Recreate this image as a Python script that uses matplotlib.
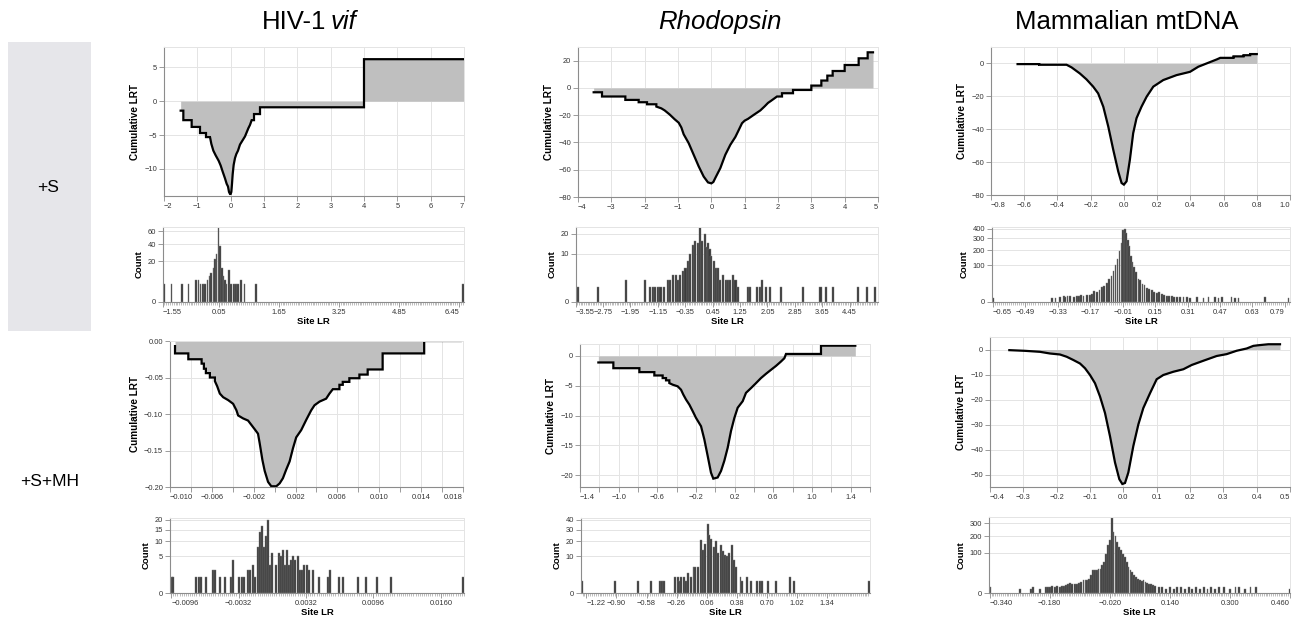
import matplotlib
matplotlib.use("Agg")
import matplotlib.pyplot as plt
import numpy as np
from matplotlib.ticker import MultipleLocator, NullLocator
from matplotlib.patches import Rectangle

plt.rcParams["font.family"] = ["Liberation Sans", "DejaVu Sans"]

W, H = 1294, 621
FILL = "#bfbfbf"
GRID = "#e4e4e4"
DOMAIN = "#8c8c8c"

ROWS = ["+S", "+S+MH"]

# ---- cumulative LRT curves (vertices) ----
hiv_s_x = [-1.50, -1.42, -1.42, -1.17, -1.17, -0.92, -0.92, -0.74, -0.74, -0.62, -0.58, -0.52,
           -0.45, -0.36, -0.30, -0.24, -0.17, -0.12, -0.08, -0.05, -0.02, 0.00, 0.02, 0.04, 0.06,
           0.09, 0.13, 0.17, 0.22, 0.28, 0.33, 0.38, 0.43, 0.48, 0.53, 0.58, 0.63, 0.70, 0.70,
           0.88, 0.88, 4.00, 4.00, 7.00]
hiv_s_y = [-1.4, -1.4, -2.8, -2.8, -3.8, -3.8, -4.7, -4.7, -5.3, -5.3, -6.3, -7.3,
           -8.0, -8.8, -9.5, -10.4, -11.4, -12.2, -12.6, -13.4, -13.7, -13.7, -13.4, -12.2, -10.8,
           -9.4, -8.4, -7.8, -7.3, -6.4, -6.0, -5.6, -5.2, -4.6, -4.0, -3.5, -2.8, -2.8, -1.9,
           -1.9, -0.9, -0.9, 6.2, 6.2]

rho_s_x = [-3.53, -3.28, -3.28, -2.58, -2.58, -2.18, -2.18, -1.93, -1.93, -1.65, -1.65, -1.50,
           -1.40, -1.25, -1.10, -0.98, -0.90, -0.83, -0.68, -0.53, -0.38, -0.23, -0.10, 0.00,
           0.06, 0.12, 0.27, 0.42, 0.57, 0.72, 0.80, 0.92, 1.00, 1.10, 1.27, 1.47, 1.60, 1.70,
           1.80, 1.97, 2.12, 2.12, 2.45, 2.45, 3.00, 3.00, 3.30, 3.30, 3.48, 3.48, 3.64, 3.64,
           4.00, 4.00, 4.42, 4.42, 4.69, 4.69, 4.85]
rho_s_y = [-3.2, -3.2, -6.3, -6.3, -8.8, -8.8, -10.5, -10.5, -12.0, -12.0, -13.7, -15.0,
           -16.5, -19.5, -23.0, -25.5, -29.0, -34.0, -40.5, -49.0, -57.5, -65.0, -69.3, -70.0,
           -69.0, -66.0, -58.8, -49.0, -41.7, -36.0, -32.0, -25.9, -24.0, -22.7, -19.8, -16.5, -13.5, -11.0,
           -9.3, -6.3, -6.3, -3.9, -3.9, -1.5, -1.5, 1.7, 1.7, 5.4, 5.4, 9.0, 9.0, 12.4,
           12.4, 16.8, 16.8, 21.7, 21.7, 26.1, 26.1]

mam_s_x = [-0.64, -0.51, -0.51, -0.345, -0.315, -0.265, -0.225, -0.185, -0.155, -0.124, -0.094,
           -0.064, -0.034, -0.014, 0.000, 0.016, 0.036, 0.056, 0.076, 0.106, 0.137, 0.177, 0.237,
           0.317, 0.398, 0.448, 0.498, 0.558, 0.58, 0.66, 0.66, 0.72, 0.72, 0.76, 0.76, 0.80]
mam_s_y = [-0.4, -0.4, -0.8, -0.8, -2.4, -6.1, -9.7, -14.1, -18.2, -26.3, -38.4,
           -52.5, -65.7, -72.7, -73.7, -71.7, -58.6, -42.4, -33.3, -26.3, -20.2, -14.1, -10.1,
           -7.1, -5.1, -2.0, 0.0, 2.4, 3.4, 3.4, 4.3, 4.3, 5.0, 5.0, 5.7, 5.7]

hiv_mh_x = [-0.00952, -0.00952, -0.00825, -0.00825, -0.00698, -0.00698, -0.00676, -0.00676,
            -0.00657, -0.00657, -0.00619, -0.00619, -0.00571, -0.00571, -0.00549, -0.00524,
            -0.00492, -0.00444, -0.00397, -0.00365, -0.00349, -0.00302, -0.00254, -0.00222,
            -0.00190, -0.00159, -0.00143, -0.00117, -0.00095, -0.00063, -0.00032, 0.00016,
            0.00048, 0.00079, 0.00111, 0.00143, 0.00175, 0.00206, 0.00254, 0.00302, 0.00349,
            0.00381, 0.00429, 0.00492, 0.00524, 0.00556, 0.00619, 0.00619, 0.00651, 0.00651,
            0.00714, 0.00714, 0.00810, 0.00810, 0.00889, 0.00889, 0.01032, 0.01032, 0.01429,
            0.01429, 0.01778]
hiv_mh_y = [-0.007, -0.017, -0.017, -0.025, -0.025, -0.031, -0.031, -0.038,
            -0.038, -0.044, -0.044, -0.050, -0.050, -0.055, -0.062, -0.072,
            -0.077, -0.081, -0.086, -0.095, -0.102, -0.106, -0.109, -0.115,
            -0.121, -0.127, -0.140, -0.163, -0.178, -0.193, -0.199, -0.199,
            -0.195, -0.188, -0.176, -0.165, -0.147, -0.132, -0.122, -0.108, -0.095,
            -0.088, -0.083, -0.079, -0.072, -0.066, -0.066, -0.060, -0.060, -0.056,
            -0.056, -0.051, -0.051, -0.046, -0.046, -0.039, -0.039, -0.017, -0.017,
            0.0, 0.0]

rho_mh_x = [-1.21, -1.055, -1.055, -0.786, -0.786, -0.631, -0.631, -0.545, -0.545, -0.51, -0.51,
            -0.476, -0.476, -0.441, -0.39, -0.355, -0.331, -0.303, -0.269, -0.234, -0.20, -0.148,
            -0.114, -0.079, -0.045, -0.021, 0.024, 0.059, 0.093, 0.128, 0.162, 0.197, 0.231,
            0.283, 0.317, 0.369, 0.421, 0.472, 0.524, 0.576, 0.628, 0.679, 0.714, 0.731, 1.093,
            1.093, 1.448]
rho_mh_y = [-1.1, -1.1, -2.06, -2.06, -2.72, -2.72, -3.28, -3.28, -3.72, -3.72, -4.1,
            -4.1, -4.56, -4.83, -5.1, -5.67, -6.5, -7.33, -8.17, -9.28, -10.4, -11.8,
            -14.0, -16.8, -19.6, -20.6, -20.4, -19.3, -17.6, -15.4, -12.6, -10.4, -8.7,
            -7.6, -6.2, -5.4, -4.56, -3.72, -3.0, -2.33, -1.67, -0.94, -0.39, 0.33, 0.33,
            1.72, 1.72]

mam_mh_x = [-0.342, -0.295, -0.25, -0.22, -0.19, -0.17, -0.15, -0.13, -0.115, -0.10, -0.085,
            -0.07, -0.055, -0.04, -0.025, -0.012, -0.003, 0.005, 0.015, 0.03, 0.045, 0.06, 0.08,
            0.10, 0.12, 0.15, 0.18, 0.205, 0.24, 0.28, 0.31, 0.34, 0.37, 0.39, 0.405, 0.435, 0.47]
mam_mh_y = [-0.26, -0.53, -0.93, -1.6, -2.0, -2.9, -4.2, -5.6, -7.5, -10.2, -13.5,
            -18.8, -25.4, -34.7, -45.2, -51.9, -53.8, -53.4, -49.2, -38.6, -30.0, -23.4, -17.5,
            -11.9, -10.2, -8.9, -7.9, -6.2, -4.5, -2.6, -1.85, -0.5, 0.4, 1.45, 1.7, 2.1, 2.1]

# ---- site LR histograms (bar centre, count) ----
hiv_s_lr = [-1.41, -1.21, -0.93, -0.75, -0.55, -0.49, -0.43, -0.37, -0.31, -0.25, -0.20, -0.15,
            -0.09, -0.05, -0.005, 0.04, 0.085, 0.13, 0.175, 0.22, 0.26, 0.32, 0.37, 0.46, 0.51,
            0.57, 0.65, 0.74, 1.04, 6.55]
hiv_s_count = [4, 4, 4, 4, 6, 6, 4, 4, 4, 6, 8, 10,
               14, 22, 28, 68, 38, 14, 8, 6, 4, 12, 4, 4, 4,
               4, 6, 4, 4, 4]

rho_s_lr = [-3.49, -2.90, -2.07, -1.51, -1.37, -1.30, -1.22, -1.14, -1.07, -0.98, -0.86, -0.79,
            -0.71, -0.63, -0.57, -0.50, -0.42, -0.34, -0.26, -0.20, -0.13, -0.06, 0.02, 0.09,
            0.15, 0.22, 0.26, 0.31, 0.36, 0.41, 0.48, 0.55, 0.61, 0.67, 0.75, 0.83, 0.89, 0.96,
            1.04, 1.12, 1.19, 1.48, 1.55, 1.74, 1.84, 1.89, 2.01, 2.13, 2.45, 3.08, 3.60, 3.77,
            3.96, 4.69, 4.96, 5.18]
rho_s_count = [1, 1, 2, 2, 1, 1, 1, 1, 1, 1, 2, 2,
               3, 3, 2, 3, 4, 5, 7, 10, 14, 16, 15, 24,
               16, 20, 13, 15, 12, 9, 7, 5, 5, 2, 3, 2, 2, 2,
               3, 2, 1, 1, 1, 1, 1, 2, 1, 1, 1, 1, 1, 1,
               1, 1, 1, 1]

mam_s_lr = [-0.65, -0.359, -0.342, -0.318, -0.30, -0.293, -0.282, -0.269, -0.249, -0.236, -0.224,
            -0.214, -0.203, -0.186, -0.173, -0.162, -0.150, -0.137, -0.124, -0.113, -0.101, -0.088,
            -0.077, -0.065, -0.055, -0.045, -0.035, -0.026, -0.016, -0.008, 0.000, 0.008, 0.015,
            0.022, 0.030, 0.038, 0.047, 0.057, 0.068, 0.076, 0.088, 0.098, 0.109, 0.120, 0.134,
            0.145, 0.158, 0.170, 0.183, 0.195, 0.207, 0.220, 0.233, 0.244, 0.257, 0.273, 0.290,
            0.306, 0.322, 0.355, 0.388, 0.413, 0.446, 0.462, 0.478, 0.527, 0.544, 0.561, 0.692,
            0.807]
mam_s_count = [1, 1, 1, 2, 3, 2, 3, 3, 2, 3, 3,
               4, 3, 4, 4, 5, 9, 7, 11, 16, 20, 28,
               38, 50, 70, 100, 140, 190, 260, 380, 400, 350, 290,
               230, 160, 120, 90, 65, 40, 35, 25, 22, 15, 13, 10,
               8, 6, 7, 5, 4, 3, 3, 3, 2, 2, 2, 2,
               2, 1, 2, 1, 2, 2, 1, 2, 2, 1, 1, 2,
               1]

hiv_mh_lr = [-0.00955, -0.0094, -0.0072, -0.0070, -0.0068, -0.0063, -0.0056, -0.0054, -0.0050,
             -0.0045, -0.0039, -0.0037, -0.0032, -0.0029, -0.0027, -0.0023, -0.0021, -0.0018,
             -0.0016, -0.0014, -0.0012, -0.0010, -0.0008, -0.0006, -0.0004, -0.0002, 0.0000,
             0.0004, 0.0006, 0.0008, 0.0010, 0.0012, 0.0014, 0.0016, 0.0018, 0.0020, 0.0022,
             0.0024, 0.0026, 0.0028, 0.0030, 0.0033, 0.0035, 0.0039, 0.0044, 0.0053, 0.0055,
             0.0063, 0.0067, 0.0081, 0.0089, 0.0099, 0.0113, 0.0181]
hiv_mh_count = [1, 1, 1, 1, 1, 1, 2, 2, 1,
                1, 1, 4, 1, 1, 1, 2, 2, 3,
                1, 8, 14, 17, 8, 12, 20, 3, 6,
                3, 6, 5, 7, 3, 7, 3, 4, 5, 4,
                5, 2, 2, 3, 3, 2, 2, 1, 1, 2,
                1, 1, 1, 1, 1, 1, 1]

rho_mh_lr = [-1.27, -0.92, -0.67, -0.53, -0.44, -0.41, -0.39, -0.28, -0.25, -0.23, -0.21, -0.18,
             -0.16, -0.14, -0.11, -0.08, -0.06, -0.03, 0.00, 0.02, 0.04, 0.07, 0.09, 0.11, 0.14,
             0.16, 0.18, 0.21, 0.23, 0.26, 0.28, 0.30, 0.33, 0.35, 0.37, 0.42, 0.44, 0.49, 0.53,
             0.60, 0.63, 0.65, 0.71, 0.80, 0.95, 0.99, 1.79]
rho_mh_count = [1, 1, 1, 1, 1, 1, 1, 2, 2, 1, 2, 2,
                1, 3, 2, 5, 5, 5, 21, 14, 18, 36, 25, 22, 16,
                20, 12, 17, 13, 11, 10, 12, 17, 8, 5, 2, 1, 2, 1,
                1, 1, 1, 1, 1, 2, 1, 1]

mam_mh_lr = [-0.338, -0.260, -0.229, -0.224, -0.207, -0.190, -0.185, -0.180, -0.173, -0.167,
             -0.160, -0.153, -0.148, -0.143, -0.137, -0.131, -0.125, -0.120, -0.113, -0.107,
             -0.102, -0.096, -0.090, -0.085, -0.080, -0.075, -0.070, -0.065, -0.060, -0.055,
             -0.050, -0.045, -0.040, -0.035, -0.030, -0.025, -0.020, -0.015, -0.010, -0.005,
             0.000, 0.005, 0.010, 0.015, 0.020, 0.025, 0.030, 0.035, 0.040, 0.045, 0.050, 0.055,
             0.060, 0.065, 0.070, 0.075, 0.080, 0.085, 0.090, 0.095, 0.100, 0.110, 0.120, 0.130,
             0.140, 0.150, 0.160, 0.170, 0.180, 0.190, 0.200, 0.210, 0.220, 0.230, 0.240, 0.250,
             0.260, 0.270, 0.285, 0.300, 0.315, 0.325, 0.340, 0.355, 0.370, 0.460]
mam_mh_count = [2, 1, 1, 2, 1, 2, 2, 2, 3, 2,
                3, 2, 3, 3, 4, 5, 6, 5, 5, 5,
                6, 8, 10, 11, 11, 12, 19, 34, 32, 32,
                37, 37, 47, 60, 96, 140, 176, 351, 230, 199,
                161, 131, 113, 96, 80, 60, 42, 32, 27, 19, 16, 13,
                11, 9, 10, 7, 6, 5, 5, 4, 3, 2, 2, 1,
                2, 1, 2, 2, 1, 2, 1, 2, 1, 2, 1, 2,
                1, 2, 2, 1, 2, 2, 1, 2, 2, 1]

# tick labels of the histogram axes
hiv_s_ticks = [-1.55, 0.05, 1.65, 3.25, 4.85, 6.45]
rho_s_ticks = [-3.55, -2.75, -1.95, -1.15, -0.35, 0.45, 1.25, 2.05, 2.85, 3.65, 4.45]
mam_s_ticks = [-0.65, -0.49, -0.33, -0.17, -0.01, 0.15, 0.31, 0.47, 0.63, 0.79]
hiv_mh_ticks = [-0.0096, -0.0032, 0.0032, 0.0096, 0.0160]
rho_mh_ticks = [-1.22, -0.90, -0.58, -0.26, 0.06, 0.38, 0.70, 1.02, 1.34]
mam_mh_ticks = [-0.340, -0.180, -0.020, 0.140, 0.300, 0.460]


def rect(l, t, r, b):
    return [l / W, 1 - b / H, (r - l) / W, (b - t) / H]


def fmt(v, nd):
    s = f"{v:.{nd}f}"
    if float(s) == 0:
        s = s.lstrip("-")
    return s.replace("-", "\u2212")


def base_style(ax):
    for s in ["top", "right"]:
        ax.spines[s].set_color(GRID)
        ax.spines[s].set_linewidth(0.7)
    for s in ["bottom", "left"]:
        ax.spines[s].set_color(DOMAIN)
        ax.spines[s].set_linewidth(0.8)
    ax.tick_params(which="major", length=3.5, width=0.6, color=DOMAIN,
                   labelsize=5.4, labelcolor="#333333", pad=1.5)
    ax.set_axisbelow(True)


def flush(ax, ticks, lim):
    labels = ax.get_xticklabels()
    span = lim[1] - lim[0]
    if abs(ticks[0] - lim[0]) < 0.03 * span:
        labels[0].set_horizontalalignment("left")
    if abs(ticks[-1] - lim[1]) < 0.03 * span:
        labels[-1].set_horizontalalignment("right")


def cum_panel(box, x, y, xlim, ylim, xstep, ystep, xdec, ydec, label_every=1):
    ax = fig.add_axes(rect(*box))
    ax.fill_between(x, y, 0, color=FILL, lw=0)
    ax.plot(x, y, color="black", lw=1.6, solid_joinstyle="miter")
    ax.set_xlim(xlim)
    ax.set_ylim(ylim)
    xt = np.arange(xlim[0], xlim[1] + xstep / 2, xstep)
    yt = np.arange(np.ceil(ylim[0] / ystep) * ystep, ylim[1] + ystep / 100, ystep)
    ax.set_xticks(xt)
    ax.set_xticklabels([fmt(v, xdec) if i % label_every == 0 else "" for i, v in enumerate(xt)])
    ax.set_yticks(yt)
    ax.set_yticklabels([fmt(v, ydec) for v in yt])
    ax.grid(True, color=GRID, lw=0.7)
    base_style(ax)
    flush(ax, xt, xlim)
    ax.set_ylabel("Cumulative LRT", fontsize=7.2, fontweight="bold", labelpad=3)
    return ax


def hist_panel(box, lr, count, bar_w, tick_step, ticks, tick_dec, xlim, ymax, yticks):
    ax = fig.add_axes(rect(*box))
    ax.set_yscale("function", functions=(lambda v: np.sqrt(np.clip(v, 0, None)), np.square))
    ax.bar(lr, count, width=bar_w, color="#3a3a3a", edgecolor="#7a7a7a", linewidth=0.3)
    ax.set_xlim(xlim)
    ax.set_ylim(0, ymax)
    pos = np.clip(ticks, xlim[0], xlim[1])
    ax.set_xticks(pos)
    ax.set_xticklabels([fmt(v, tick_dec) for v in ticks])
    ax.xaxis.set_minor_locator(MultipleLocator(tick_step))
    ax.tick_params(which="minor", length=2.2, width=0.4, color=DOMAIN)
    ax.set_yticks(yticks)
    ax.set_yticklabels([str(v) for v in yticks])
    ax.yaxis.set_minor_locator(NullLocator())
    ax.grid(True, axis="y", color=GRID, lw=0.7)
    base_style(ax)
    flush(ax, pos, xlim)
    ax.set_ylabel("Count", fontsize=6.8, fontweight="bold", labelpad=3)
    ax.set_xlabel("Site LR", fontsize=6.8, fontweight="bold", labelpad=1)
    return ax


fig = plt.figure(figsize=(W / 100, H / 100), dpi=100)

# column titles
fig.text(326 / W, 1 - 22 / H, "HIV-1", ha="right", va="center", fontsize=18.5)
fig.text(331 / W, 1 - 22 / H, "vif", ha="left", va="center", fontsize=18.5, style="italic")
fig.text(720 / W, 1 - 22 / H, "Rhodopsin", ha="center", va="center", fontsize=18.5, style="italic")
fig.text(1127 / W, 1 - 22 / H, "Mammalian mtDNA", ha="center", va="center", fontsize=18.5)

# row labels
fig.patches.append(Rectangle((8 / W, 1 - 331 / H), 83 / W, 289 / H,
                             transform=fig.transFigure, color="#e6e6ea", lw=0))
fig.text(48 / W, 1 - 187 / H, ROWS[0], ha="center", va="center", fontsize=12.5)
fig.text(50 / W, 1 - 481 / H, ROWS[1], ha="center", va="center", fontsize=12.5)

# +S row
cum_panel((164, 47, 464, 196), hiv_s_x, hiv_s_y, (-2, 7), (-14, 8), 1, 5, 0, 0)
cum_panel((578, 47, 878, 197), rho_s_x, rho_s_y, (-4, 5), (-80, 30), 1, 20, 0, 0)
cum_panel((991, 47, 1290, 195), mam_s_x, mam_s_y, (-0.8, 1.0), (-80, 10), 0.2, 20, 1, 0)

hist_panel((163, 227, 464, 302), hiv_s_lr, hiv_s_count, 0.042, 0.05, hiv_s_ticks, 2,
           (-1.434, 6.583), 67, [0, 20, 40, 60])
hist_panel((576, 227, 878, 302), rho_s_lr, rho_s_count, 0.062, 0.05, rho_s_ticks, 2,
           (-3.536, 5.277), 24, [0, 10, 20])
hist_panel((992, 227, 1290, 302), mam_s_lr, mam_s_count, 0.0085, 0.01, mam_s_ticks, 2,
           (-0.6545, 0.815), 418, [0, 100, 200, 300, 400])

# +S+MH row
cum_panel((170, 341, 463, 487), hiv_mh_x, hiv_mh_y, (-0.010, 0.018), (-0.2, 0.0), 0.002, 0.05, 3, 2,
          label_every=2)
cum_panel((580, 344, 870, 487), rho_mh_x, rho_mh_y, (-1.4, 1.6), (-22, 2), 0.2, 5, 1, 0,
          label_every=2)
cum_panel((990, 337, 1290, 487), mam_mh_x, mam_mh_y, (-0.4, 0.5), (-55, 5), 0.1, 10, 1, 0)

hist_panel((170, 518, 464, 593), hiv_mh_lr, hiv_mh_count, 0.00019, 0.0002, hiv_mh_ticks, 4,
           (-0.00971, 0.0182), 21, [0, 5, 10, 15, 20])
hist_panel((581, 518, 870, 593), rho_mh_lr, rho_mh_count, 0.021, 0.02, rho_mh_ticks, 2,
           (-1.277, 1.798), 42, [0, 10, 20, 30, 40])
hist_panel((989, 517, 1290, 593), mam_mh_lr, mam_mh_count, 0.0048, 0.005, mam_mh_ticks, 3,
           (-0.3418, 0.46), 358, [0, 100, 200, 300])

fig.savefig("out.png", dpi=100)
